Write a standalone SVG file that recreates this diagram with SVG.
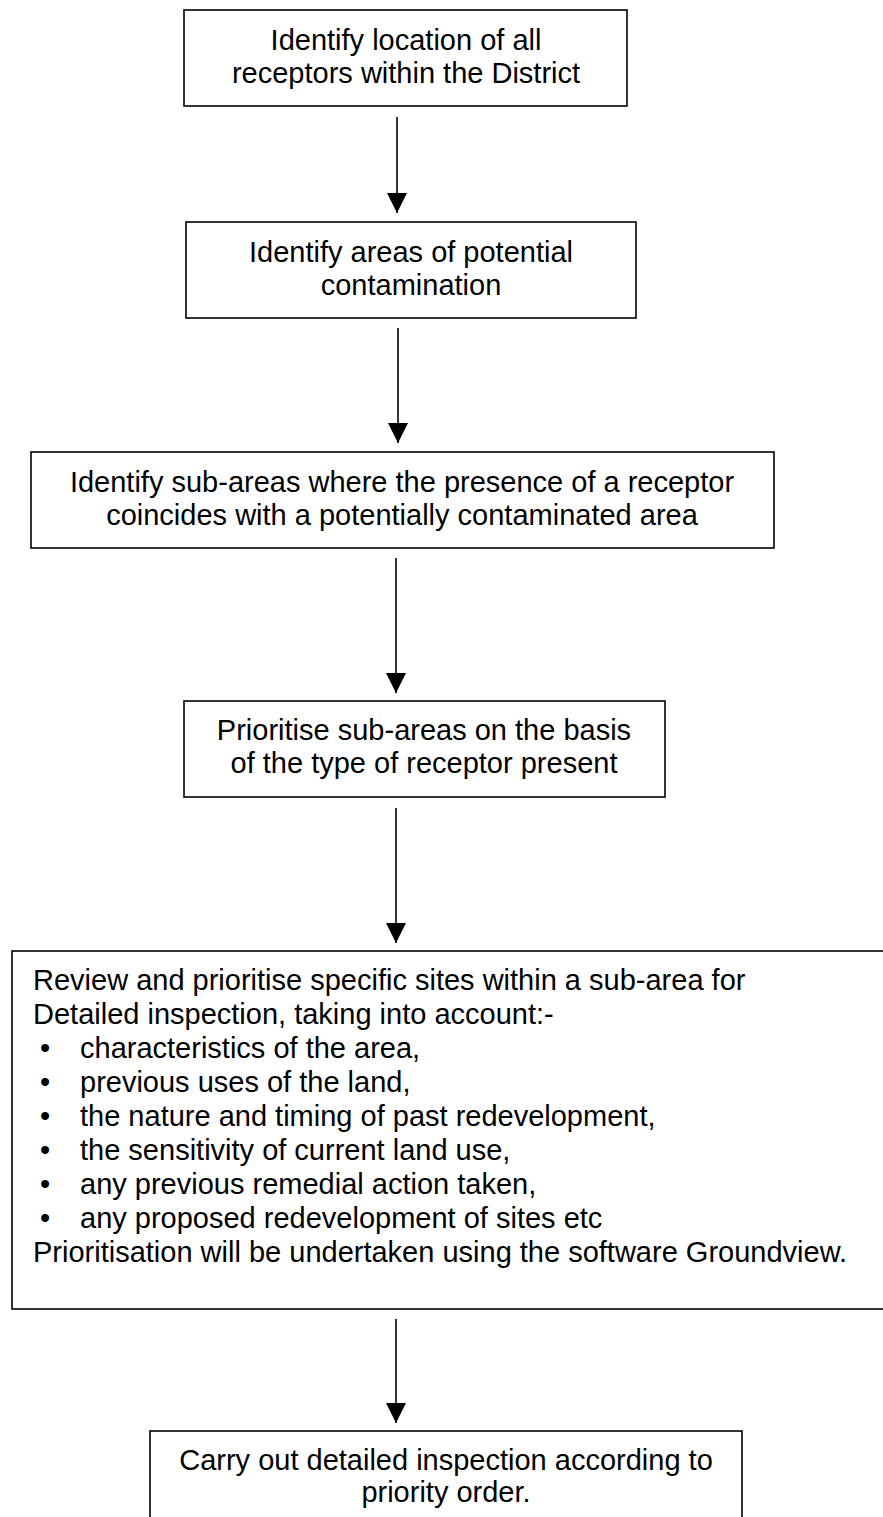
<svg xmlns="http://www.w3.org/2000/svg" width="883" height="1517" viewBox="0 0 883 1517">
<style>
.box{fill:#fff;stroke:#000;stroke-width:1.6}
.t{font-family:"Liberation Sans",Arial,Helvetica,sans-serif;font-size:29px;fill:#000}
.c{text-anchor:middle}
.conn line{stroke:#000;stroke-width:1.6}
</style>
<defs>
<marker id="ah" markerUnits="userSpaceOnUse" markerWidth="20" markerHeight="20" refX="20" refY="10" orient="auto" viewBox="0 0 20 20">
<path d="M0,0 L20,10 L0,20 z" fill="#000"/>
</marker>
</defs>
<rect width="883" height="1517" fill="#fff"/>
<g id="n1">
<rect class="box" x="184" y="10" width="443" height="96"/>
<text class="t c" x="406" y="50">Identify location of all</text>
<text class="t c" x="406" y="83">receptors within the District</text>
</g>
<g id="n2">
<rect class="box" x="186" y="222" width="450" height="96"/>
<text class="t c" x="411" y="262">Identify areas of potential</text>
<text class="t c" x="411" y="295">contamination</text>
</g>
<g id="n3">
<rect class="box" x="31" y="452" width="743" height="96"/>
<text class="t c" x="402" y="492">Identify sub-areas where the presence of a receptor</text>
<text class="t c" x="402" y="525">coincides with a potentially contaminated area</text>
</g>
<g id="n4">
<rect class="box" x="184" y="701" width="481" height="96"/>
<text class="t c" x="424" y="740">Prioritise sub-areas on the basis</text>
<text class="t c" x="424" y="773">of the type of receptor present</text>
</g>
<g id="n5">
<rect class="box" x="12" y="951" width="890" height="358"/>
<text class="t" x="33" y="990">Review and prioritise specific sites within a sub-area for</text>
<text class="t" x="33" y="1024">Detailed inspection, taking into account:-</text>
<text class="t" x="40" y="1058">•</text><text class="t" x="80" y="1058">characteristics of the area,</text>
<text class="t" x="40" y="1092">•</text><text class="t" x="80" y="1092">previous uses of the land,</text>
<text class="t" x="40" y="1126">•</text><text class="t" x="80" y="1126">the nature and timing of past redevelopment,</text>
<text class="t" x="40" y="1160">•</text><text class="t" x="80" y="1160">the sensitivity of current land use,</text>
<text class="t" x="40" y="1194">•</text><text class="t" x="80" y="1194">any previous remedial action taken,</text>
<text class="t" x="40" y="1228">•</text><text class="t" x="80" y="1228">any proposed redevelopment of sites etc</text>
<text class="t" x="33" y="1262">Prioritisation will be undertaken using the software Groundview.</text>
</g>
<g id="n6">
<rect class="box" x="150" y="1431" width="592" height="120"/>
<text class="t c" x="446" y="1470">Carry out detailed inspection according to</text>
<text class="t c" x="446" y="1502">priority order.</text>
</g>
<g id="connectors" class="conn">
<line x1="397" y1="117" x2="397" y2="213" marker-end="url(#ah)"/>
<line x1="398" y1="328" x2="398" y2="443" marker-end="url(#ah)"/>
<line x1="396" y1="558" x2="396" y2="693" marker-end="url(#ah)"/>
<line x1="396" y1="808" x2="396" y2="943" marker-end="url(#ah)"/>
<line x1="396" y1="1319" x2="396" y2="1423" marker-end="url(#ah)"/>
</g>
</svg>
